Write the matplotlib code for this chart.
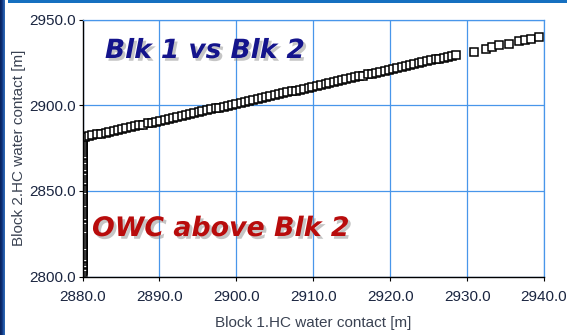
import matplotlib
matplotlib.use("Agg")
import matplotlib.pyplot as plt
import matplotlib.patheffects as pe
import numpy as np
from matplotlib.ticker import FormatStrFormatter
from matplotlib.colors import LinearSegmentedColormap

# ---- data ----
diag_x = [
    2880.3, 2880.8, 2881.3, 2881.9, 2882.4, 2883.0, 2883.5, 2884.1, 2884.6, 2885.2,
    2885.7, 2886.3, 2886.8, 2887.4, 2887.9, 2888.5, 2889.0, 2889.6, 2890.1, 2890.7,
    2891.2, 2891.8, 2892.3, 2892.9, 2893.4, 2894.0, 2894.5, 2895.1, 2895.6, 2896.2,
    2896.7, 2897.3, 2897.8, 2898.4, 2898.9, 2899.5, 2900.0, 2900.6, 2901.1, 2901.7,
    2902.2, 2902.8, 2903.3, 2903.9, 2904.4, 2905.0, 2905.5, 2906.1, 2906.6, 2907.2,
    2907.7, 2908.3, 2908.8, 2909.4, 2909.9, 2910.5, 2911.0, 2911.6, 2912.1, 2912.7,
    2913.2, 2913.8, 2914.3, 2914.9, 2915.4, 2916.0, 2916.5, 2917.1, 2917.6, 2918.2,
    2918.7, 2919.3, 2919.8, 2920.4, 2920.9, 2921.5, 2922.0, 2922.6, 2923.1, 2923.7,
    2924.2, 2924.8, 2925.3, 2925.9, 2926.4, 2927.0, 2927.5, 2928.1, 2928.6,
    2930.9, 2932.5, 2933.3, 2934.1, 2935.5, 2936.8, 2937.5, 2938.3, 2939.3,
]
diag_y = [
    2881.5, 2881.9, 2882.4, 2882.9, 2883.3, 2883.9, 2884.4, 2884.9, 2885.4, 2886.0,
    2886.5, 2887.1, 2887.6, 2888.2, 2888.7, 2889.3, 2889.8, 2890.4, 2890.9, 2891.5,
    2892.0, 2892.6, 2893.1, 2893.7, 2894.2, 2894.8, 2895.3, 2895.9, 2896.4, 2897.0,
    2897.5, 2898.1, 2898.6, 2899.2, 2899.7, 2900.3, 2900.8, 2901.4, 2901.9, 2902.5,
    2903.0, 2903.6, 2904.1, 2904.7, 2905.2, 2905.8, 2906.3, 2906.9, 2907.4, 2908.0,
    2908.5, 2909.1, 2909.6, 2910.2, 2910.7, 2911.3, 2911.8, 2912.4, 2912.9, 2913.5,
    2914.0, 2914.6, 2915.1, 2915.7, 2916.2, 2916.8, 2917.3, 2917.9, 2918.4, 2919.0,
    2919.5, 2920.1, 2920.6, 2921.2, 2921.7, 2922.3, 2922.8, 2923.4, 2923.9, 2924.5,
    2925.0, 2925.6, 2926.1, 2926.7, 2927.2, 2927.8, 2928.3, 2928.9, 2929.4,
    2931.2, 2932.8, 2934.1, 2935.1, 2935.7, 2937.6, 2938.0, 2938.6, 2940.0,
]
col_y = [
    2802.6, 2804.0, 2805.1, 2806.5, 2807.4, 2808.9, 2810.2, 2811.0, 2812.6, 2813.8,
    2815.1, 2816.0, 2817.5, 2818.9, 2820.0, 2821.3, 2822.7, 2823.5, 2825.0, 2826.2,
    2827.4, 2828.8, 2830.1, 2831.0, 2832.5, 2833.9, 2835.0, 2836.2, 2837.7, 2838.6,
    2840.1, 2841.4, 2842.5, 2843.9, 2845.0, 2846.3, 2847.8, 2848.7, 2850.0, 2851.4,
    2852.6, 2853.8, 2855.1, 2856.0, 2857.5, 2858.8, 2860.1, 2861.2, 2862.6, 2863.5,
    2865.0, 2866.3, 2867.4, 2868.9, 2870.1, 2871.0, 2872.5, 2873.8, 2875.0, 2876.2,
    2877.6, 2878.5, 2879.9, 2880.8,
]
col_x = [2880.0] * len(col_y)

x_ticks = [2880, 2890, 2900, 2910, 2920, 2930, 2940]
y_ticks = [2800, 2850, 2900, 2950]
x_label = "Block 1.HC water contact [m]"
y_label = "Block 2.HC water contact [m]"
title_text = "Blk 1 vs Blk 2"
note_text = "OWC above Blk 2"

W, H = 567, 335
fig = plt.figure(figsize=(W / 100, H / 100), dpi=100)
fig.patch.set_facecolor("white")

# decorative background strips
strip = fig.add_axes([0, 0, 5 / W, 1])
grad = np.array([[0.0, 0.5, 1.0]])
cmap = LinearSegmentedColormap.from_list("s", ["#0a2460", "#123a86", "#2a63b0"])
strip.imshow(grad, aspect="auto", cmap=cmap, extent=[0, 1, 0, 1])
strip.axis("off")
top = fig.add_axes([8 / W, 1 - 3 / H, 1 - 8 / W, 3 / H])
top.set_facecolor("#1670c0")
top.set_xticks([]); top.set_yticks([])
for s in top.spines.values():
    s.set_visible(False)

ax = fig.add_axes([82.5 / W, 1 - 276.5 / H, (544 - 82.5) / W, (276.5 - 19.5) / H])
ax.set_xlim(2880, 2940)
ax.set_ylim(2800, 2950)

grid_c = "#4896ea"
ax.set_xticks(x_ticks)
ax.set_yticks(y_ticks)
ax.xaxis.set_major_formatter(FormatStrFormatter("%.1f"))
ax.yaxis.set_major_formatter(FormatStrFormatter("%.1f"))
ax.grid(True, color=grid_c, linewidth=0.9)
ax.set_axisbelow(True)
for side in ["top", "right"]:
    ax.spines[side].set_color(grid_c)
    ax.spines[side].set_linewidth(0.9)
for side in ["left", "bottom"]:
    ax.spines[side].set_color("black")
    ax.spines[side].set_linewidth(1.0)

tick_c = "#1a2540"
ax.tick_params(axis="y", direction="out", length=3, width=0.8, pad=1.5,
               labelsize=11, labelcolor=tick_c)
ax.tick_params(axis="x", direction="out", length=3, width=0.8, pad=7,
               labelsize=11, labelcolor=tick_c)
for lab in ax.get_xticklabels() + ax.get_yticklabels():
    lab.set_fontfamily("Liberation Sans")

lab_c = "#3a4252"
ax.set_xlabel(x_label, fontsize=11, color=lab_c, family="Liberation Sans")
ax.xaxis.set_label_coords(0.5, -0.155)
ax.set_ylabel(y_label, fontsize=11, color=lab_c, family="Liberation Sans")
ax.yaxis.set_label_coords(-0.122, 0.5)

mk = dict(marker="s", linestyle="none", markersize=6, markerfacecolor="white",
          markeredgecolor="black", markeredgewidth=1.1)
ax.plot(col_x, col_y, **mk)
ax.plot(diag_x, diag_y, **mk)

shadow = [pe.withSimplePatchShadow(offset=(2, -2), shadow_rgbFace="#808080", alpha=0.45)]
ax.text(105 / W, 1 - 58 / H, title_text, transform=fig.transFigure, fontsize=19,
        color="#14148c", fontweight="bold", fontstyle="oblique", family="DejaVu Sans",
        path_effects=shadow, ha="left", va="baseline")
ax.text(92 / W, 1 - 236 / H, note_text, transform=fig.transFigure, fontsize=19.3,
        color="#b80c0c", fontweight="bold", fontstyle="oblique", family="DejaVu Sans",
        path_effects=shadow, ha="left", va="baseline")

fig.savefig("out.png", dpi=100)
